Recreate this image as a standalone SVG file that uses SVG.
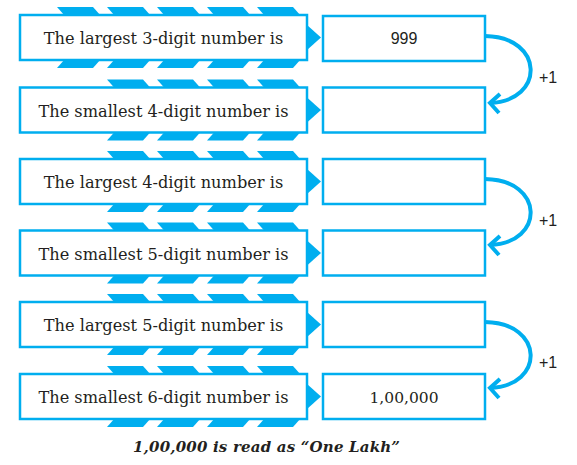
<svg xmlns="http://www.w3.org/2000/svg" xmlns:xlink="http://www.w3.org/1999/xlink" width="577" height="465" viewBox="0 0 577 465">
<style>
.box{fill:#fff;stroke:#00aeef;stroke-width:2.5}
.chev{fill:#00aeef}
.tri{fill:#00aeef}
.lbl{font-family:"DejaVu Serif","Liberation Serif",serif;font-size:16.2px;fill:#231f20;text-anchor:middle}
.val{font-family:"Liberation Sans","DejaVu Sans",sans-serif;font-size:16px;fill:#231f20;text-anchor:middle}
.val2{font-family:"DejaVu Serif","Liberation Serif",serif;font-size:15.5px;fill:#231f20;text-anchor:middle}
.plus{font-family:"Liberation Sans","DejaVu Sans",sans-serif;font-size:16px;fill:#231f20}
.conn{fill:none;stroke:#00aeef;stroke-width:4;stroke-linecap:butt}
.cap{font-family:"DejaVu Serif","Liberation Serif",serif;font-size:15px;font-weight:bold;font-style:italic;fill:#231f20}
</style>
<defs>
<path id="ct" class="chev" d="M0,-8 h36 l8,9 h-36 z"/>
<path id="cb" class="chev" d="M8,-1 h36 l-8,9 h-36 z"/>
</defs>
<g id="stripes">
<use xlink:href="#ct" x="57" y="15"/><use xlink:href="#ct" x="107" y="15"/><use xlink:href="#ct" x="157" y="15"/><use xlink:href="#ct" x="207" y="15"/><use xlink:href="#ct" x="257" y="15"/>
<use xlink:href="#cb" x="57" y="60"/><use xlink:href="#cb" x="107" y="60"/><use xlink:href="#cb" x="157" y="60"/><use xlink:href="#cb" x="207" y="60"/><use xlink:href="#cb" x="257" y="60"/>
<use xlink:href="#ct" x="107" y="87.5"/><use xlink:href="#ct" x="157" y="87.5"/><use xlink:href="#ct" x="207" y="87.5"/><use xlink:href="#ct" x="257" y="87.5"/>
<use xlink:href="#cb" x="107" y="132.5"/><use xlink:href="#cb" x="157" y="132.5"/><use xlink:href="#cb" x="207" y="132.5"/><use xlink:href="#cb" x="257" y="132.5"/>
<use xlink:href="#ct" x="107" y="159"/><use xlink:href="#ct" x="157" y="159"/><use xlink:href="#ct" x="207" y="159"/><use xlink:href="#ct" x="257" y="159"/>
<use xlink:href="#cb" x="107" y="204"/><use xlink:href="#cb" x="157" y="204"/><use xlink:href="#cb" x="207" y="204"/><use xlink:href="#cb" x="257" y="204"/>
<use xlink:href="#ct" x="107" y="230.5"/><use xlink:href="#ct" x="157" y="230.5"/><use xlink:href="#ct" x="207" y="230.5"/><use xlink:href="#ct" x="257" y="230.5"/>
<use xlink:href="#cb" x="107" y="275.5"/><use xlink:href="#cb" x="157" y="275.5"/><use xlink:href="#cb" x="207" y="275.5"/><use xlink:href="#cb" x="257" y="275.5"/>
<use xlink:href="#ct" x="107" y="302"/><use xlink:href="#ct" x="157" y="302"/><use xlink:href="#ct" x="207" y="302"/><use xlink:href="#ct" x="257" y="302"/>
<use xlink:href="#cb" x="107" y="347"/><use xlink:href="#cb" x="157" y="347"/><use xlink:href="#cb" x="207" y="347"/><use xlink:href="#cb" x="257" y="347"/>
<use xlink:href="#ct" x="107" y="374"/><use xlink:href="#ct" x="157" y="374"/><use xlink:href="#ct" x="207" y="374"/><use xlink:href="#ct" x="257" y="374"/>
<use xlink:href="#cb" x="107" y="419"/><use xlink:href="#cb" x="157" y="419"/><use xlink:href="#cb" x="207" y="419"/><use xlink:href="#cb" x="257" y="419"/>
</g>
<g id="row1">
<rect class="box" x="20" y="15" width="287" height="45"/>
<path class="tri" d="M307,25 L321,37.5 L307,50 Z"/>
<text class="lbl" x="163.5" y="44">The largest 3-digit number is</text>
<rect class="box" x="323" y="16" width="162" height="45"/>
<text class="val" x="404" y="44">999</text>
</g>
<g id="row2">
<rect class="box" x="20" y="87.5" width="287" height="45"/>
<path class="tri" d="M307,97.5 L321,110 L307,122.5 Z"/>
<text class="lbl" x="163.5" y="116.5">The smallest 4-digit number is</text>
<rect class="box" x="323" y="87.5" width="162" height="45"/>
</g>
<g id="row3">
<rect class="box" x="20" y="159" width="287" height="45"/>
<path class="tri" d="M307,169 L321,181.5 L307,194 Z"/>
<text class="lbl" x="163.5" y="188">The largest 4-digit number is</text>
<rect class="box" x="323" y="159" width="162" height="45"/>
</g>
<g id="row4">
<rect class="box" x="20" y="230.5" width="287" height="45"/>
<path class="tri" d="M307,240.5 L321,253 L307,265.5 Z"/>
<text class="lbl" x="163.5" y="259.5">The smallest 5-digit number is</text>
<rect class="box" x="323" y="230.5" width="162" height="45"/>
</g>
<g id="row5">
<rect class="box" x="20" y="302" width="287" height="45"/>
<path class="tri" d="M307,312 L321,324.5 L307,337 Z"/>
<text class="lbl" x="163.5" y="331">The largest 5-digit number is</text>
<rect class="box" x="323" y="302" width="162" height="45"/>
</g>
<g id="row6">
<rect class="box" x="20" y="374" width="287" height="45"/>
<path class="tri" d="M307,384 L321,396.5 L307,409 Z"/>
<text class="lbl" x="163.5" y="403">The smallest 6-digit number is</text>
<rect class="box" x="323" y="374" width="162" height="45"/>
<text class="val2" x="404" y="402.5">1,00,000</text>
</g>
<g id="connectors">
<path class="conn" d="M485,36 C545,37 545,101 490,103"/>
<path class="conn" d="M500,94 L490,103 L499,113"/>
<path class="conn" d="M485,179 C545,180 545,243 490,245"/>
<path class="conn" d="M500,236 L490,245 L499,255"/>
<path class="conn" d="M485,322 C545,323 545,386 490,388"/>
<path class="conn" d="M500,379 L490,388 L499,398"/>
<text class="plus" x="539" y="83">+1</text>
<text class="plus" x="539" y="226">+1</text>
<text class="plus" x="539" y="368">+1</text>
</g>
<text class="cap" x="133" y="452" textLength="267" lengthAdjust="spacing">1,00,000 is read as “One Lakh”</text>
</svg>
